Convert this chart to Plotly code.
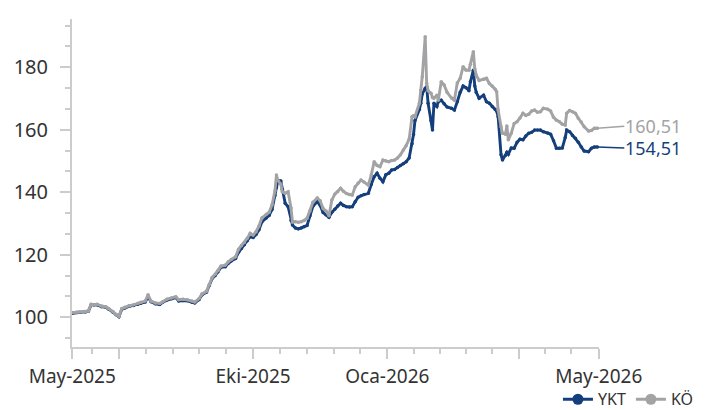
import plotly.graph_objects as go
import pandas as pd

# ---------------- data ----------------
dates = [
    "2025-05-30", "2025-06-02", "2025-06-04", "2025-06-08", "2025-06-10", "2025-06-12", "2025-06-14",
    "2025-06-16", "2025-06-19", "2025-06-22", "2025-06-24", "2025-06-27", "2025-06-29", "2025-07-01",
    "2025-07-03", "2025-07-05", "2025-07-08", "2025-07-11", "2025-07-14", "2025-07-16", "2025-07-19",
    "2025-07-21", "2025-07-23", "2025-07-26", "2025-07-29", "2025-07-31", "2025-08-03", "2025-08-06",
    "2025-08-09", "2025-08-11", "2025-08-14", "2025-08-17", "2025-08-20", "2025-08-22", "2025-08-25",
    "2025-08-27", "2025-08-30", "2025-09-01", "2025-09-03", "2025-09-05", "2025-09-07", "2025-09-09",
    "2025-09-12", "2025-09-14", "2025-09-16", "2025-09-19", "2025-09-21", "2025-09-23", "2025-09-25",
    "2025-09-27", "2025-09-29", "2025-10-01", "2025-10-03", "2025-10-05", "2025-10-07", "2025-10-10",
    "2025-10-12", "2025-10-14", "2025-10-16", "2025-10-17", "2025-10-18", "2025-10-20", "2025-10-21",
    "2025-10-23", "2025-10-25", "2025-10-27", "2025-10-28", "2025-10-30", "2025-11-01", "2025-11-03",
    "2025-11-05", "2025-11-07", "2025-11-09", "2025-11-11", "2025-11-14", "2025-11-16", "2025-11-18",
    "2025-11-20", "2025-11-22", "2025-11-24", "2025-11-26", "2025-11-28", "2025-11-30", "2025-12-02",
    "2025-12-04", "2025-12-06", "2025-12-08", "2025-12-10", "2025-12-12", "2025-12-14", "2025-12-16",
    "2025-12-19", "2025-12-21", "2025-12-23", "2025-12-25", "2025-12-27", "2025-12-29", "2025-12-31",
    "2026-01-02", "2026-01-04", "2026-01-06", "2026-01-08", "2026-01-10", "2026-01-12", "2026-01-14",
    "2026-01-16", "2026-01-18", "2026-01-19", "2026-01-20", "2026-01-23", "2026-01-24", "2026-01-25",
    "2026-01-27", "2026-01-28", "2026-01-29", "2026-01-31", "2026-02-01", "2026-02-02", "2026-02-04",
    "2026-02-05", "2026-02-07", "2026-02-09", "2026-02-11", "2026-02-14", "2026-02-16", "2026-02-18",
    "2026-02-20", "2026-02-22", "2026-02-24", "2026-02-26", "2026-02-27", "2026-03-01", "2026-03-02",
    "2026-03-03", "2026-03-05", "2026-03-08", "2026-03-10", "2026-03-12", "2026-03-14", "2026-03-16",
    "2026-03-17", "2026-03-18", "2026-03-20", "2026-03-21", "2026-03-23", "2026-03-24", "2026-03-25",
    "2026-03-27", "2026-03-29", "2026-03-31", "2026-04-02", "2026-04-04", "2026-04-06", "2026-04-08",
    "2026-04-10", "2026-04-12", "2026-04-14", "2026-04-16", "2026-04-18", "2026-04-21", "2026-04-23",
    "2026-04-25", "2026-04-27", "2026-04-29", "2026-05-01", "2026-05-03", "2026-05-04", "2026-05-06",
    "2026-05-08", "2026-05-10", "2026-05-12", "2026-05-14", "2026-05-16", "2026-05-19", "2026-05-21",
    "2026-05-23", "2026-05-25",
]

ko = [
    101.5, 101.6, 101.7, 101.8, 102.0, 104.2, 104.0, 104.2, 103.6, 103.4, 102.8, 101.8, 100.9, 100.3,
    102.8, 103.2, 103.7, 104.0, 104.5, 104.8, 105.2, 107.2, 105.2, 104.6, 104.4, 105.0, 105.8, 106.2,
    106.6, 105.6, 105.8, 105.6, 105.2, 104.9, 106.0, 107.5, 108.3, 110.5, 112.8, 113.8, 115.0, 116.4,
    116.7, 117.8, 118.5, 119.4, 121.8, 123.0, 123.9, 125.3, 126.9, 126.3, 127.4, 129.2, 131.8, 133.0,
    133.6, 136.0, 140.5, 145.5, 143.8, 142.6, 140.2, 139.7, 140.2, 135.0, 130.5, 130.6, 130.4, 130.6,
    131.0, 131.7, 134.0, 136.8, 138.2, 137.3, 134.8, 134.0, 132.5, 137.5, 139.4, 140.2, 141.3, 140.3,
    139.6, 139.3, 139.1, 141.8, 143.0, 143.9, 143.3, 142.3, 145.5, 149.8, 148.6, 148.2, 150.3, 150.0,
    149.8, 150.2, 150.3, 151.0, 152.0, 153.5, 155.0, 157.0, 164.2, 164.5, 164.2, 168.5, 172.7, 177.0,
    189.8, 174.9, 172.5, 171.7, 170.3, 170.1, 171.1, 169.5, 175.4, 174.3, 172.0, 170.2, 169.5, 175.0,
    176.5, 180.2, 179.1, 179.1, 181.0, 185.0, 179.5, 177.5, 175.8, 176.2, 176.5, 174.8, 174.0, 173.0,
    172.2, 166.3, 161.0, 158.9, 158.6, 161.2, 156.8, 158.9, 162.0, 162.6, 163.8, 165.3, 164.6, 165.0,
    166.0, 166.3, 165.6, 165.8, 166.9, 166.6, 166.0, 164.0, 163.1, 162.6, 161.8, 161.5, 165.3, 166.2,
    165.8, 165.3, 163.7, 162.5, 161.0, 159.6, 159.8, 160.5, 160.51,
]

ykt = [
    101.3, 101.5, 101.6, 101.7, 101.9, 104.0, 103.9, 104.0, 103.4, 103.2, 102.6, 101.6, 100.8, 100.2,
    102.6, 103.0, 103.5, 103.8, 104.2, 104.5, 104.9, 106.5, 105.0, 104.3, 104.1, 104.8, 105.5, 105.9,
    106.3, 105.2, 105.4, 105.3, 104.8, 104.6, 105.7, 107.2, 108.0, 110.2, 112.5, 113.4, 114.6, 116.0,
    116.2, 117.3, 118.0, 118.8, 120.8, 122.0, 123.2, 124.5, 125.8, 125.5, 126.5, 128.0, 130.5, 131.8,
    132.6, 134.5, 139.0, 141.5, 143.8, 143.6, 141.0, 136.5, 135.4, 131.0, 129.5, 128.6, 128.3, 128.6,
    129.0, 129.4, 132.5, 135.5, 137.0, 135.8, 133.5, 132.8, 132.0, 133.6, 134.6, 135.6, 136.5, 135.8,
    135.4, 135.3, 135.4, 137.0, 138.4, 138.9, 139.3, 139.7, 142.5, 145.0, 146.1, 144.5, 143.4, 145.6,
    146.1, 147.1, 147.3, 147.9, 148.6, 149.1, 149.8, 151.0, 155.5, 158.5, 163.0, 166.5, 168.5, 171.5,
    173.3, 173.8, 168.5, 163.0, 159.9, 168.5, 167.5, 169.0, 169.5, 168.3, 167.3, 166.9, 166.3, 169.0,
    172.0, 174.0, 173.5, 172.5, 175.4, 179.1, 174.0, 172.0, 170.1, 171.1, 169.0, 168.5, 167.4, 166.5,
    166.0, 164.2, 152.0, 150.3, 151.8, 152.8, 152.2, 154.2, 154.1, 156.0, 157.0, 156.8, 158.0, 158.9,
    159.2, 159.9, 159.9, 159.9, 159.4, 159.0, 158.6, 156.5, 154.1, 154.1, 154.2, 157.5, 159.9, 159.4,
    158.2, 157.3, 156.0, 154.5, 153.2, 153.0, 154.1, 154.5, 154.51,
]

series_names = ["YKT", "KÖ"]
end_labels = ["154,51", "160,51"]

y_tick_vals = [100, 120, 140, 160, 180]
x_tick_vals = ["2025-05-30", "2025-07-01", "2025-10-01", "2026-01-01", "2026-04-01", "2026-05-26"]
x_tick_text = ["May-2025", "", "Eki-2025", "Oca-2026", "", "May-2026"]

# ---------------- style ----------------
BLUE = "#143f7c"
GREY = "#a3a3a5"
AXIS = "#cccccc"
TXT = "#333333"
FONT = "Noto Sans"

# minor x ticks: 5 steps per quarter
q = pd.to_datetime(x_tick_vals[1:5])
minor_x = []
step0 = (q[1] - q[0]) / 5
minor_x.append(q[0] - step0)
for a, b in zip(q[:-1], q[1:]):
    st = (b - a) / 5
    for i in range(1, 5):
        minor_x.append(a + st * i)
st = (q[-1] - q[-2]) / 5
minor_x += [q[-1] + st, q[-1] + 2 * st]

fig = go.Figure()
for name, vals, col in [(series_names[0], ykt, BLUE), (series_names[1], ko, GREY)]:
    fig.add_trace(go.Scatter(
        x=dates, y=vals, name=name, mode="lines+markers",
        line=dict(color=col, width=2.9),
        marker=dict(color=col, size=3.5),
        showlegend=False, legendgroup=name,
    ))
# legend entries (bigger symbols, like the reference)
for name, col in [(series_names[0], BLUE), (series_names[1], GREY)]:
    fig.add_trace(go.Scatter(
        x=[None], y=[None], name=name, mode="lines+markers",
        line=dict(color=col, width=2.8),
        marker=dict(color=col, size=11),
        showlegend=True, legendgroup=name,
    ))

for txt, vals, col, dy in [(end_labels[0], ykt, BLUE, 1), (end_labels[1], ko, GREY, -2)]:
    fig.add_annotation(
        x=dates[-1], y=vals[-1], xref="x", yref="y",
        text=txt, showarrow=True, arrowhead=0, arrowwidth=1.6, arrowcolor=col,
        ax=27, ay=dy, xanchor="left", yanchor="middle", borderpad=0,
        font=dict(family=FONT, size=18, color=col),
    )

fig.update_layout(
    width=706, height=410,
    margin=dict(l=72, r=107, t=19, b=63, autoexpand=False),
    paper_bgcolor="white", plot_bgcolor="white",
    font=dict(family=FONT, size=18, color=TXT),
    showlegend=True,
    legend=dict(orientation="h", xref="container", yref="container",
                x=0.99, y=0.026, xanchor="right", yanchor="middle",
                font=dict(family=FONT, size=16, color=TXT), itemwidth=30,
                tracegroupgap=0, bgcolor="rgba(0,0,0,0)"),
)

fig.update_xaxes(
    type="date", automargin=False,
    range=["2025-05-29 20:00", "2026-05-26 04:00"],
    tickmode="array", tickvals=x_tick_vals, ticktext=x_tick_text,
    ticks="outside", ticklen=10, tickwidth=2, tickcolor=AXIS,
    showline=True, linecolor=AXIS, linewidth=2,
    showgrid=False, zeroline=False,
    tickfont=dict(family=FONT, size=19, color=TXT),
    ticklabelstandoff=1,
    minor=dict(tickmode="array", tickvals=minor_x, ticks="outside", ticklen=5,
               tickwidth=2, tickcolor=AXIS, showgrid=False),
)

fig.update_yaxes(
    range=[90.5, 195.46], automargin=False,
    tickmode="array", tickvals=y_tick_vals,
    ticks="outside", ticklen=10, tickwidth=2, tickcolor=AXIS,
    showline=True, linecolor=AXIS, linewidth=2,
    showgrid=False, zeroline=False,
    tickfont=dict(family=FONT, size=20, color=TXT),
    ticklabelstandoff=8,
    minor=dict(tickmode="linear", tick0=100, dtick=20 / 3, ticks="outside", ticklen=5,
               tickwidth=2, tickcolor=AXIS, showgrid=False),
)

fig.write_html(
    "out.html",
    config={"displayModeBar": False},
    post_script="document.body.style.margin='0';document.body.style.overflow='hidden';",
)
